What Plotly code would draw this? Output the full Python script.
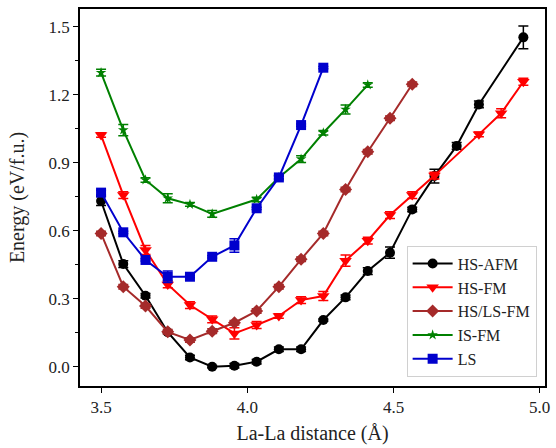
import plotly.graph_objects as go

step = 0.076
x_all = [round(3.5 + i * step, 3) for i in range(20)]

# HS-AFM (black)
afm_x = x_all[:18] + [x_all[19]]
afm_y = [0.731, 0.453, 0.313, 0.152, 0.041, 0.0, 0.004, 0.022, 0.077, 0.077,
         0.206, 0.306, 0.422, 0.503, 0.694, 0.841, 0.974, 1.157, 1.453]
afm_e = [0.02, 0.015, 0.01, 0.005, 0.01, 0.005, 0.01, 0.01, 0.01, 0.01,
         0.005, 0.01, 0.015, 0.025, 0.01, 0.03, 0.015, 0.015, 0.05]

# HS-FM (red)
hsfm_x = x_all[:16] + x_all[17:20]
hsfm_y = [1.022, 0.757, 0.515, 0.363, 0.272, 0.209, 0.147, 0.184, 0.224, 0.294,
          0.312, 0.468, 0.556, 0.669, 0.757, 0.843, 1.025, 1.118, 1.257]
hsfm_e = [0.01, 0.015, 0.02, 0.015, 0.015, 0.015, 0.025, 0.015, 0.01, 0.015,
          0.02, 0.025, 0.015, 0.015, 0.015, 0.015, 0.01, 0.02, 0.015]

# HS/LS-FM (brown)
hsls_x = x_all[:15]
hsls_y = [0.588, 0.353, 0.268, 0.154, 0.118, 0.157, 0.194, 0.246, 0.353, 0.474,
          0.588, 0.782, 0.948, 1.096, 1.246]
hsls_e = [0.01] * 15

# IS-FM (green)
is_x = x_all[:6] + x_all[7:13]
is_y = [1.297, 1.044, 0.824, 0.743, 0.716, 0.674, 0.738, 0.835, 0.916, 1.032, 1.135, 1.243]
is_e = [0.015, 0.025, 0.01, 0.02, 0.008, 0.015, 0.01, 0.01, 0.015, 0.01, 0.02, 0.01]

# LS (blue)
ls_x = x_all[:11]
ls_y = [0.768, 0.593, 0.471, 0.397, 0.397, 0.485, 0.535, 0.699, 0.835, 1.066, 1.319]
ls_e = [0.01, 0.005, 0.005, 0.025, 0.005, 0.005, 0.03, 0.005, 0.005, 0.005, 0.005]

series = [
    ("HS-AFM", afm_x, afm_y, afm_e, "black", "circle", 10),
    ("HS-FM", hsfm_x, hsfm_y, hsfm_e, "#ff0000", "triangle-down", 11),
    ("HS/LS-FM", hsls_x, hsls_y, hsls_e, "#a52a2a", "diamond", 10),
    ("IS-FM", is_x, is_y, is_e, "#008000", "star", 8),
    ("LS", ls_x, ls_y, ls_e, "#0000cd", "square", 10),
]

fig = go.Figure()
for name, xs, ys, es, col, sym, sz in series:
    fig.add_trace(go.Scatter(
        x=xs, y=ys, name=name, mode="lines+markers",
        line=dict(color=col, width=2),
        marker=dict(color=col, symbol=sym, size=sz),
        error_y=dict(type="data", array=es, visible=True, color=col,
                     thickness=1.5, width=5),
    ))

font_family = "Liberation Serif, DejaVu Serif, serif"
fig.update_layout(
    width=556, height=448,
    margin=dict(l=80, r=11, t=9, b=62),
    paper_bgcolor="white", plot_bgcolor="white",
    font=dict(family=font_family, size=17, color="#222222"),
    showlegend=True,
    legend=dict(
        x=0.982, y=0.025, xanchor="right", yanchor="bottom",
        bgcolor="rgba(255,255,255,0.8)", bordercolor="#d0d0d0", borderwidth=1,
        font=dict(size=16), tracegroupgap=0, itemwidth=40,
    ),
    xaxis=dict(
        range=[3.428, 5.018], tickvals=[3.5, 4.0, 4.5, 5.0],
        ticktext=["3.5", "4.0", "4.5", "5.0"], automargin=False,
        showline=True, linecolor="black", linewidth=1.8, mirror=True,
        ticks="outside", ticklen=5, tickwidth=1.3, tickcolor="black",
        showgrid=False, zeroline=False,
        title=dict(text="La-La distance (Å)", standoff=10),
    ),
    yaxis=dict(
        range=[-0.085, 1.578], tickvals=[0, 0.3, 0.6, 0.9, 1.2, 1.5],
        ticktext=["0.0", "0.3", "0.6", "0.9", "1.2", "1.5"], automargin=False,
        showline=True, linecolor="black", linewidth=1.8, mirror=True,
        ticks="outside", ticklen=5, tickwidth=1.3, tickcolor="black",
        minor=dict(tickvals=[0.15, 0.45, 0.75, 1.05, 1.35], ticks="outside",
                   ticklen=3, tickwidth=1, tickcolor="black"),
        showgrid=False, zeroline=False,
        title=dict(text="Energy (eV/f.u.)", standoff=18),
    ),
)

fig.write_html("out.html")
